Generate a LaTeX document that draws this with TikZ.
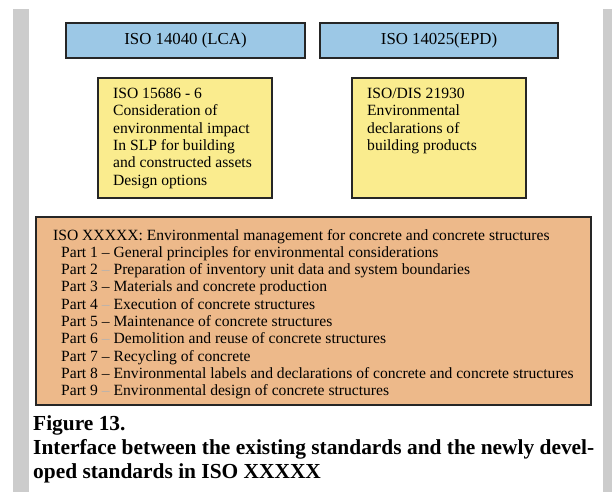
\documentclass[tikz,border=0pt]{standalone}
\usepackage{fontspec}
\setmainfont{Liberation Serif}
\definecolor{isoblue}{RGB}{156,200,230}
\definecolor{isoyellow}{RGB}{250,236,142}
\definecolor{isoorange}{RGB}{237,185,138}
\definecolor{sidegray}{RGB}{204,204,204}
\begin{document}
\begin{tikzpicture}[
    x=1pt, y=-1pt,
    stdbox/.style={draw=black!85, line width=2.6pt, inner sep=0pt},
    headbox/.style={stdbox, fill=isoblue, minimum height=35pt, font=\fontsize{16.8}{18}\selectfont},
    notebox/.style={stdbox, fill=isoyellow, minimum width=174pt, minimum height=120pt},
    boxtext/.style={anchor=north west, inner sep=0pt, align=left, font=\fontsize{15.6}{17.3}\selectfont},
    partline/.style={anchor=base west, inner sep=0pt, font=\fontsize{15.6}{17.3}\selectfont},
    caption/.style={anchor=base west, inner sep=0pt, font=\bfseries\fontsize{21.4}{24.5}\selectfont},
]
    % Page and side bars
    \useasboundingbox (0,0) rectangle (612,492);
    \fill[sidegray] (13,9) rectangle (29,492);
    \fill[sidegray] (603,9) rectangle (612,492);

    % Existing standards
    \node[headbox, minimum width=239pt] (lca) at (185.5,40.5) {ISO 14040 (LCA)};
    \node[headbox, minimum width=238pt] (epd) at (439,40.5) {ISO 14025(EPD)};

    \node[notebox] (slp) at (185,138) {};
    \node[boxtext] (slptext) at (113,88) {ISO 15686 - 6\\Consideration of\\environmental impact\\In SLP for building\\and constructed assets\\Design options};
    \node[notebox] (dis) at (439,138) {};
    \node[boxtext] (distext) at (367,88) {ISO/DIS 21930\\Environmental\\declarations of\\building products};

    % New standard ISO XXXXX
    \node[stdbox, fill=isoorange, minimum width=555pt, minimum height=188pt] (newiso) at (313.5,311) {};
    \node[partline] (head) at (53,240) {ISO XXXXX: Environmental management for concrete and concrete structures};
    \foreach \k/\dash/\txt in {
        1/black/General principles for environmental considerations,
        2/black!30/Preparation of inventory unit data and system boundaries,
        3/black/Materials and concrete production,
        4/black!30/Execution of concrete structures,
        5/black/Maintenance of concrete structures,
        6/black!30/Demolition and reuse of concrete structures,
        7/black/Recycling of concrete,
        8/black/Environmental labels and declarations of concrete and concrete structures,
        9/black!30/Environmental design of concrete structures} {
        \node[partline] (part\k) at (61,240+\k*17.3) {Part \k\ \textcolor{\dash}{--} \txt};
    }

    % Caption
    \node[caption] (fig) at (33,430) {Figure 13.};
    \node[caption] (title1) at (33,454) {Interface between the existing standards and the newly devel-};
    \node[caption] (title2) at (33,478) {oped standards in ISO XXXXX};
\end{tikzpicture}
\end{document}
